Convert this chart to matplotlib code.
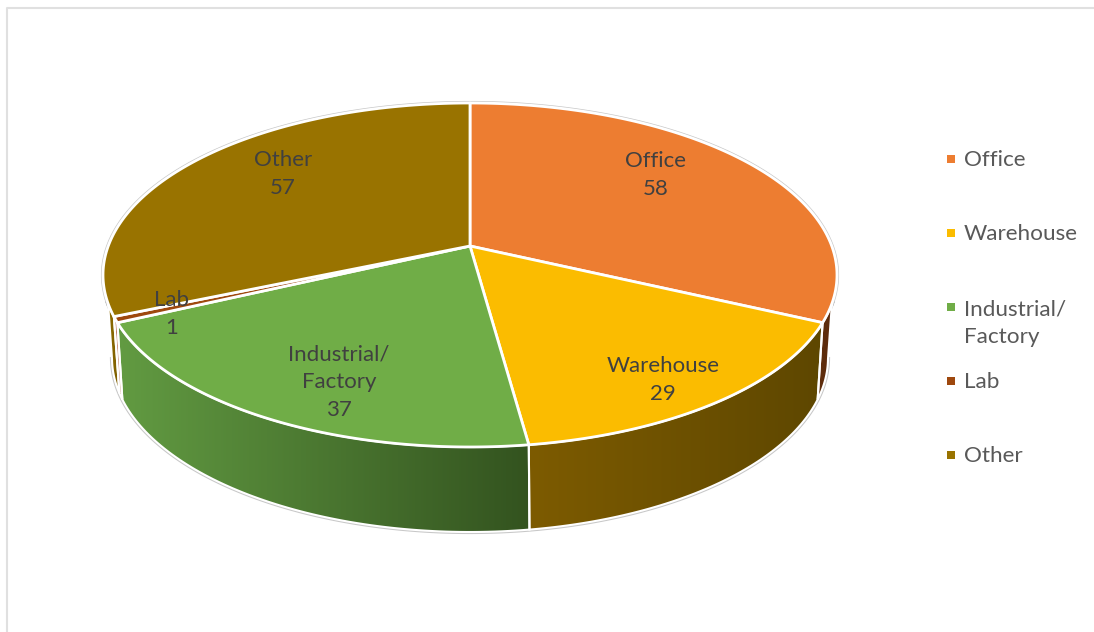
import numpy as np
import matplotlib
matplotlib.use('Agg')
import matplotlib.pyplot as plt
from matplotlib.patches import Polygon
from matplotlib.colors import LinearSegmentedColormap

categories = ['Office', 'Warehouse', 'Industrial/\nFactory', 'Lab', 'Other']
values = [58, 29, 37, 1, 57]
colors = ['#ED7D31', '#FBBC00', '#70AD47', '#9E480E', '#997300']
# side of the disc, left and right end of the shading
side_colors = [('#5E2C0C', '#5E2C0C'), ('#7D5B00', '#5E4700'), ('#629B42', '#33531F'),
               ('#B5654A', '#B5654A'), ('#8F6C00', '#7A5C00')]

plt.rcParams['font.family'] = ['Lato', 'DejaVu Sans']

fig = plt.figure(figsize=(10.94, 6.32), dpi=100)
ax = fig.add_axes([0, 0, 1, 1])

# the drawing is laid out in pixels of the picture
cx, cy_center = 470, 246
top_a, top_b, top_cy = 367, 172, 275
low_a, low_b, low_cy = 358, 174, 358
# where the straight side of the silhouette leaves each rim
top_turn, low_turn = 0.603 * np.pi, 0.567 * np.pi

def top_pts(t):
    # Excel's perspective squeezes the angles a little
    p = t - np.radians(9.5) * np.sin(t)
    return np.c_[cx + top_a * np.sin(p), top_cy - top_b * np.cos(p)]

def low_pts(t):
    p = t - np.radians(12) * np.sin(t)
    return np.c_[cx + low_a * np.sin(p), low_cy - low_b * np.cos(p)]

edges = np.cumsum([0] + values) / sum(values) * 2 * np.pi

# grey outline of the whole disc
t = np.linspace(top_turn, 2 * np.pi - top_turn + 2 * np.pi, 300) - 2 * np.pi
t_low = np.linspace(low_turn, 2 * np.pi - low_turn, 300)
outline = np.vstack([top_pts(t), low_pts(t_low)])
ax.add_patch(Polygon(outline, closed=True, fc='none', ec='#C8C8C8', lw=3, zorder=1))

# side walls first, only the front part shows
for i in range(len(values)):
    t0, t1 = edges[i], edges[i + 1]
    top_t = np.linspace(max(t0, top_turn) if t1 < np.pi else t0, t1, 80)
    low_t = np.linspace(max(t0, low_turn) if t1 < np.pi else t0, t1, 80)
    if t1 > 1.5 * np.pi:
        # the last slice ends at the left side of the silhouette
        top_t = np.linspace(t0, 2 * np.pi - top_turn, 80)
        low_t = np.linspace(t0, 2 * np.pi - low_turn, 80)
    poly = np.vstack([top_pts(top_t), low_pts(low_t)[::-1]])
    patch = Polygon(poly, closed=True, fc='none', ec='white', lw=1.5, zorder=3)
    ax.add_patch(patch)
    cmap = LinearSegmentedColormap.from_list('side', side_colors[i])
    im = ax.imshow(np.linspace(0, 1, 256).reshape(1, -1), cmap=cmap, aspect='auto', zorder=2,
                   extent=[poly[:, 0].min(), poly[:, 0].max(), poly[:, 1].max(), poly[:, 1].min()])
    im.set_clip_path(patch)

# top of the disc
for i in range(len(values)):
    t = np.linspace(edges[i], edges[i + 1], 120)
    poly = np.vstack([[[cx, cy_center]], top_pts(t)])
    ax.add_patch(Polygon(poly, closed=True, fc=colors[i], ec='white', lw=2, joinstyle='round', zorder=4))

# data labels
label_x = [656, 663, 339, 172, 283]
label_y = [175, 380, 382, 314, 174]
for i in range(len(values)):
    ax.text(label_x[i], label_y[i], categories[i] + '\n' + str(values[i]), ha='center', va='center',
            fontsize=16, color='#404040', linespacing=1.47, zorder=5)

# legend
legend_y = [160, 234, 323, 382, 456]
marker_y = [159, 233, 307, 381, 455]
for i in range(len(values)):
    ax.scatter(951, marker_y[i], s=33, marker='s', color=colors[i], linewidths=0, zorder=5)
    ax.text(964, legend_y[i], categories[i], ha='left', va='center', fontsize=16.2,
            color='#595959', linespacing=1.47, zorder=5)

# chart frame, only top and left are inside the picture
ax.plot([7, 7, 1094], [632, 7.5, 7.5], color='#E0E0E0', lw=1.5, zorder=1)

ax.set_xlim(0, 1094)
ax.set_ylim(632, 0)
ax.axis('off')
fig.savefig('out.png', dpi=100)
